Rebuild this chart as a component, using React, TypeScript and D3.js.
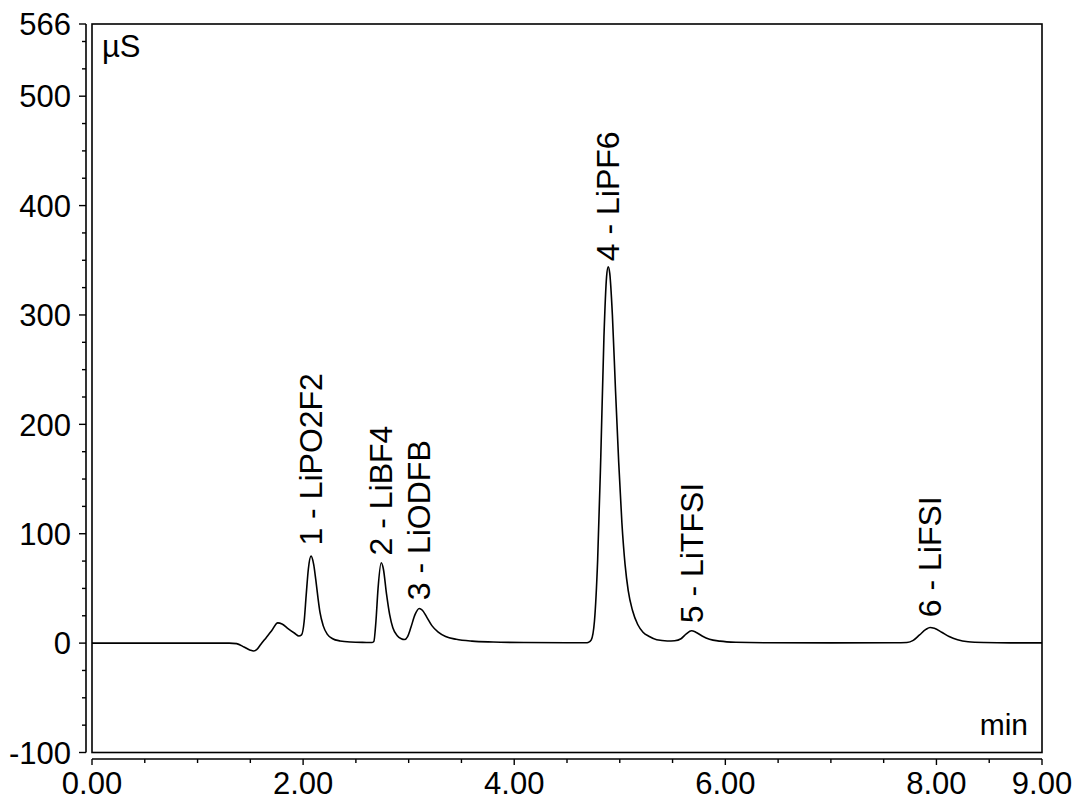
import React from "react";
import * as d3 from "d3";

const timeMin: number[] = [
  0, 1.0, 1.3, 1.37, 1.44, 1.5, 1.53, 1.56, 1.6, 1.65, 1.7, 1.76, 1.8, 1.86, 1.92, 1.96,
  1.985, 2.01, 2.03, 2.05, 2.075, 2.1, 2.12, 2.14, 2.16, 2.19, 2.23, 2.28, 2.35, 2.45, 2.6,
  2.65, 2.67, 2.69, 2.71, 2.74, 2.76, 2.79, 2.82, 2.85, 2.89, 2.93, 2.96, 2.99, 3.02, 3.06,
  3.1, 3.13, 3.17, 3.22, 3.28, 3.35, 3.45, 3.6, 3.8, 4.1, 4.5, 4.68,
  4.7, 4.73, 4.76, 4.79, 4.82, 4.85, 4.875, 4.89, 4.905, 4.93, 4.96, 4.99, 5.02, 5.05, 5.08,
  5.12, 5.17, 5.22, 5.28, 5.35, 5.45, 5.52, 5.58, 5.63, 5.68, 5.72, 5.78, 5.85, 5.95, 6.1,
  6.4, 7.0, 7.6, 7.72, 7.78, 7.84, 7.9, 7.94, 7.98, 8.05, 8.12, 8.2, 8.3, 8.45, 8.7, 9.0,
];
const signalUS: number[] = [
  0, 0, 0, -0.5, -3.5, -6.5, -7.2, -6, -1, 5, 11, 18.5, 17.5, 13, 9, 6.5,
  7.5, 20, 45, 68, 79.5, 72, 58, 42, 28, 16, 8, 4, 2, 1, 0.6,
  0.5, 1.5, 20, 50, 73.5, 68, 45, 26, 14, 7, 4, 3.3, 6, 14, 26,
  31.7, 30, 24, 16, 10, 6, 3.5, 1.8, 1.0, 0.5, 0.3, 0.3,
  0.5, 3, 20, 75, 170, 280, 335, 344, 338, 300, 230, 165, 110, 72, 48,
  30, 17, 10, 6, 3, 2, 2.2, 4, 8.5, 11.3, 10, 6.5, 3.5, 1.8, 0.8,
  0.3, 0.2, 0.3, 0.6, 2.5, 7.5, 12.5, 14.3, 13.5, 10, 6, 3, 1.2, 0.5, 0.2, 0.2,
];

const peakLabels: string[] = ["1 - LiPO2F2", "2 - LiBF4", "3 - LiODFB", "4 - LiPF6", "5 - LiTFSI", "6 - LiFSI"];
const peakTimes: number[] = [2.075, 2.74, 3.1, 4.89, 5.68, 7.94];
const peakLabelBase: number[] = [80, 71, 30, 340, 9, 14.5];

const xMajorTicks: number[] = [0, 2, 4, 6, 8, 9];
const xMinorTicks: number[] = [0.5, 1, 1.5, 2.5, 3, 3.5, 4.5, 5, 5.5, 6.5, 7, 7.5, 8.5];
const yMajorTicks: number[] = [-100, 0, 100, 200, 300, 400, 500, 566];
const yMinorTicks: number[] = d3.range(-75, 566, 25).filter((v) => v % 100 !== 0);

export default function App() {
  const W = 1080;
  const H = 806;
  const left = 92, right = 1042, top = 24, bottom = 752.5;
  const x = d3.scaleLinear().domain([0, 9]).range([left, right]);
  const y = d3.scaleLinear().domain([-100, 566]).range([bottom, top]);
  const pts: [number, number][] = timeMin.map((t, i) => [t, signalUS[i]]);
  const line = d3
    .line<[number, number]>()
    .x((d) => x(d[0]))
    .y((d) => y(d[1]))
    .curve(d3.curveMonotoneX);
  const font = "Liberation Sans, Arial, sans-serif";
  const yAxisX = 86;
  const xAxisY = 759;
  return (
    <svg
      width={W}
      height={H}
      style={{ position: "absolute", left: 0, top: 0, background: "#fff" }}
      fontFamily={font}
    >
      <rect x={0} y={0} width={W} height={H} fill="#fff" />
      {/* frame */}
      <rect x={left} y={top} width={right - left} height={bottom - top} fill="none" stroke="#000" strokeWidth={1.6} />
      {/* y axis */}
      <line x1={yAxisX} x2={yAxisX} y1={y(566)} y2={y(-100)} stroke="#000" strokeWidth={1.6} />
      {yMajorTicks.map((v) => (
        <g key={"ym" + v}>
          <line x1={yAxisX - 7} x2={yAxisX} y1={y(v)} y2={y(v)} stroke="#000" strokeWidth={1.4} />
          <text x={71} y={y(v)} dy="0.36em" textAnchor="end" fontSize={31} fill="#000">
            {v}
          </text>
        </g>
      ))}
      {yMinorTicks.map((v) => (
        <line key={"yn" + v} x1={yAxisX - 4} x2={yAxisX} y1={y(v)} y2={y(v)} stroke="#000" strokeWidth={1.4} />
      ))}
      {/* x axis */}
      <line x1={x(0)} x2={x(9)} y1={xAxisY} y2={xAxisY} stroke="#000" strokeWidth={1.6} />
      {xMajorTicks.map((v) => (
        <g key={"xm" + v}>
          <line x1={x(v)} x2={x(v)} y1={xAxisY} y2={xAxisY + 6} stroke="#000" strokeWidth={1.4} />
          <text x={x(v)} y={794} textAnchor="middle" fontSize={31} fill="#000">
            {v.toFixed(2)}
          </text>
        </g>
      ))}
      {xMinorTicks.map((v) => (
        <line key={"xn" + v} x1={x(v)} x2={x(v)} y1={xAxisY} y2={xAxisY + 4} stroke="#000" strokeWidth={1.4} />
      ))}
      {/* unit labels */}
      <text x={102} y={57} fontSize={31} fill="#000">µS</text>
      <text x={1028} y={735} textAnchor="end" fontSize={30} fill="#000">min</text>
      {/* trace */}
      <path d={line(pts) || ""} fill="none" stroke="#000" strokeWidth={1.6} strokeLinejoin="round" />
      {/* peak labels */}
      {peakLabels.map((s, i) => {
        const px = x(peakTimes[i]) + 11;
        const py = y(peakLabelBase[i]) - 10;
        return (
          <text
            key={s}
            transform={`translate(${px},${py}) rotate(-90)`}
            fontSize={32}
            fill="#000"
          >
            {s}
          </text>
        );
      })}
    </svg>
  );
}
